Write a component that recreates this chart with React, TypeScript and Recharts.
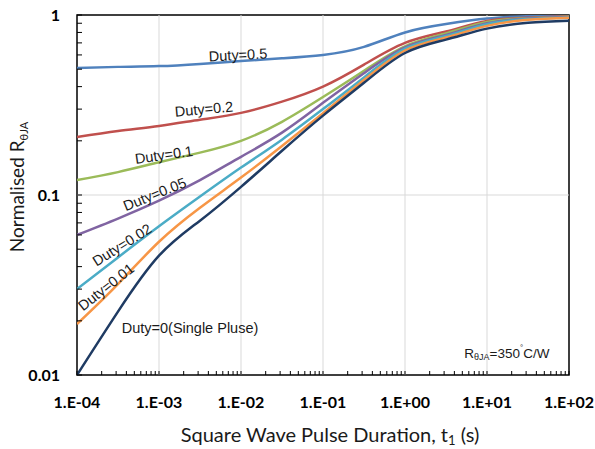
import { LineChart, Line, XAxis, YAxis, ReferenceLine, ReferenceDot, ReferenceArea } from "recharts";

// pulse duration t1 (s), half-decade steps shared by all curves
const T = [1e-4, 3.16e-4, 1e-3, 3.16e-3, 1e-2, 3.16e-2, 1e-1, 0.316, 1, 3.16, 10, 31.6, 100];

// normalised R_thetaJA
const DUTY_05 = [0.508, 0.515, 0.52, 0.535, 0.555, 0.575, 0.6, 0.665, 0.8, 0.89, 0.955, 0.985, 1.0];
const DUTY_02 = [0.21, 0.227, 0.242, 0.262, 0.286, 0.33, 0.4, 0.53, 0.7, 0.81, 0.926, 0.965, 0.985];
const DUTY_01 = [0.121, 0.134, 0.152, 0.172, 0.2, 0.255, 0.35, 0.49, 0.67, 0.79, 0.915, 0.96, 0.98];
const DUTY_005 = [0.06, 0.074, 0.093, 0.121, 0.163, 0.222, 0.325, 0.475, 0.66, 0.775, 0.9, 0.955, 0.975];
const DUTY_002 = [0.03, 0.045, 0.067, 0.098, 0.142, 0.203, 0.3, 0.45, 0.65, 0.765, 0.89, 0.95, 0.97];
const DUTY_001 = [0.0192, 0.032, 0.055, 0.085, 0.125, 0.187, 0.285, 0.435, 0.635, 0.75, 0.87, 0.94, 0.965];
const DUTY_0 = [0.01, 0.0225, 0.046, 0.072, 0.111, 0.176, 0.276, 0.42, 0.615, 0.73, 0.84, 0.905, 0.93];

const X_TICKS = [1e-4, 1e-3, 1e-2, 1e-1, 1, 10, 100];
const X_TICK_LABELS = ["1.E-04", "1.E-03", "1.E-02", "1.E-01", "1.E+00", "1.E+01", "1.E+02"];
const Y_TICKS = [0.01, 0.1, 1];
const Y_TICK_LABELS = ["0.01", "0.1", "1"];
const MULTIPLES = [1, 2, 3, 4, 5, 6, 7, 8, 9];
const X_ALL = X_TICKS.slice(0, -1).flatMap((d) => MULTIPLES.map((m) => d * m)).concat([100]);
const Y_ALL = Y_TICKS.slice(0, -1).flatMap((d) => MULTIPLES.map((m) => d * m)).concat([1]);

// curve labels: text, anchor (t, R), tilt
const NOTE_TEXT = ["Duty=0.5", "Duty=0.2", "Duty=0.1", "Duty=0.05", "Duty=0.02", "Duty=0.01", "Duty=0(Single Pluse)"];
const NOTE_T = [0.0092, 0.00354, 0.00115, 0.00089, 0.000354, 0.000226, 0.00239];
const NOTE_R = [0.6, 0.3, 0.167, 0.101, 0.0528, 0.0308, 0.01824];
const NOTE_ANGLE = [-3, -5, -8, -22, -32, -38, 0];

const series = [
  { key: "d05", vals: DUTY_05, color: "#4f81bd" },
  { key: "d02", vals: DUTY_02, color: "#c0504d" },
  { key: "d01", vals: DUTY_01, color: "#9bbb59" },
  { key: "d005", vals: DUTY_005, color: "#8064a2" },
  { key: "d002", vals: DUTY_002, color: "#4bacc6" },
  { key: "d001", vals: DUTY_001, color: "#f79646" },
  { key: "d0", vals: DUTY_0, color: "#1f3b63" },
].map((s) => ({ ...s, data: T.map((t, i) => ({ t, r: s.vals[i] })) }));

const NOTE_FONT = "'Liberation Sans', Arial, sans-serif";
const AXIS_FONT = "Lato, 'Open Sans', sans-serif";

function center(p: any) {
  const vb = p.viewBox || {};
  return { cx: (vb.x ?? 0) + (vb.width ?? 0) / 2, cy: (vb.y ?? 0) + (vb.height ?? 0) / 2 };
}

function noteLabel(text: string, angle: number) {
  return (p: any) => {
    const { cx, cy } = center(p);
    return (
      <text x={cx} y={cy} textAnchor="middle" dominantBaseline="central" fontSize={14.5} fontFamily={NOTE_FONT}
        fill="#1a1a1a" transform={`rotate(${angle} ${cx} ${cy})`}>{text}</text>
    );
  };
}

function rjaLabel(p: any) {
  const { cx, cy } = center(p);
  return (
    <text x={cx} y={cy} textAnchor="middle" dominantBaseline="central" fontSize={13.5} fontFamily={NOTE_FONT} fill="#1a1a1a">
      R<tspan fontSize={9} dy={4}>θJA</tspan><tspan dy={-4}>=350</tspan>
      <tspan fontSize={8} dy={-6}>°</tspan><tspan dy={6}>C/W</tspan>
    </text>
  );
}

function xTitle(p: any) {
  const vb = p.viewBox || {};
  const x = vb.x + vb.width / 2 + 7;
  const y = vb.y + 67;
  return (
    <text x={x} y={y} textAnchor="middle" fontSize={20} fontFamily={AXIS_FONT} fill="#1a1a1a">
      Square Wave Pulse Duration, t<tspan fontSize={13} dy={3}>1</tspan><tspan dy={-3}> (s)</tspan>
    </text>
  );
}

function yTitle() {
  const cx = 24;
  const cy = 187;
  return (
    <text x={cx} y={cy} textAnchor="middle" fontSize={19} fontFamily={AXIS_FONT} fill="#1a1a1a"
      transform={`rotate(-90 ${cx} ${cy})`}>
      Normalised R<tspan fontSize={11} dy={4}>θJA</tspan>
    </text>
  );
}

// tick mark inside the frame, bold label only on decades
function XTick(p: any) {
  const { x, y, payload } = p;
  const i = X_TICKS.indexOf(payload.value);
  return (
    <g>
      <line x1={x} x2={x} y1={y} y2={y - 4} stroke="#000" strokeWidth={1} />
      {i >= 0 && (
        <text x={x} y={y + 33} textAnchor="middle" fontSize={16} fontWeight={700} fontFamily={AXIS_FONT} fill="#000">
          {X_TICK_LABELS[i]}
        </text>
      )}
    </g>
  );
}

function YTick(p: any) {
  const { x, y, payload } = p;
  const i = Y_TICKS.indexOf(payload.value);
  return (
    <g>
      <line x1={x} x2={x + 5} y1={y} y2={y} stroke="#000" strokeWidth={1} />
      {i >= 0 && (
        <text x={x - 17} y={y + 6} textAnchor="end" fontSize={16} fontWeight={700} fontFamily={AXIS_FONT} fill="#000">
          {Y_TICK_LABELS[i]}
        </text>
      )}
    </g>
  );
}

export default function App() {
  return (
    <div style={{ position: "absolute", left: 0, top: 0, width: 595, height: 449, background: "#fff" }}>
      <LineChart width={595} height={449} margin={{ top: 15, right: 26, bottom: 0, left: 0 }}>
        <XAxis type="number" dataKey="t" scale="log" domain={[1e-4, 100]} allowDataOverflow ticks={X_ALL} interval={0}
          tick={<XTick />} tickLine={false} tickSize={0} tickMargin={0} height={74} axisLine={false}
          label={{ content: xTitle }} />
        <YAxis type="number" scale="log" domain={[0.01, 1]} allowDataOverflow ticks={Y_ALL} interval={0}
          tick={<YTick />} tickLine={false} tickSize={0} tickMargin={0} width={77} axisLine={false}
          label={{ content: yTitle }} />
        {X_TICKS.slice(1, -1).map((v) => (
          <ReferenceLine key={v} x={v} stroke="#d9d9d9" strokeWidth={1} />
        ))}
        <ReferenceLine y={0.1} stroke="#d9d9d9" strokeWidth={1} />
        {series.map((s) => (
          <Line key={s.key} data={s.data} dataKey="r" type="natural" stroke={s.color} strokeWidth={2.5}
            dot={false} isAnimationActive={false} />
        ))}
        <ReferenceArea x1={1e-4} x2={100} y1={0.01} y2={1} fill="none" stroke="#000" strokeWidth={1.5} ifOverflow="visible" />
        {NOTE_TEXT.map((txt, i) => (
          <ReferenceDot key={txt} x={NOTE_T[i]} y={NOTE_R[i]} r={1} fill="none" stroke="none"
            label={noteLabel(txt, NOTE_ANGLE[i])} />
        ))}
        <ReferenceDot x={17.5} y={0.01325} r={1} fill="none" stroke="none" label={rjaLabel} />
      </LineChart>
    </div>
  );
}
